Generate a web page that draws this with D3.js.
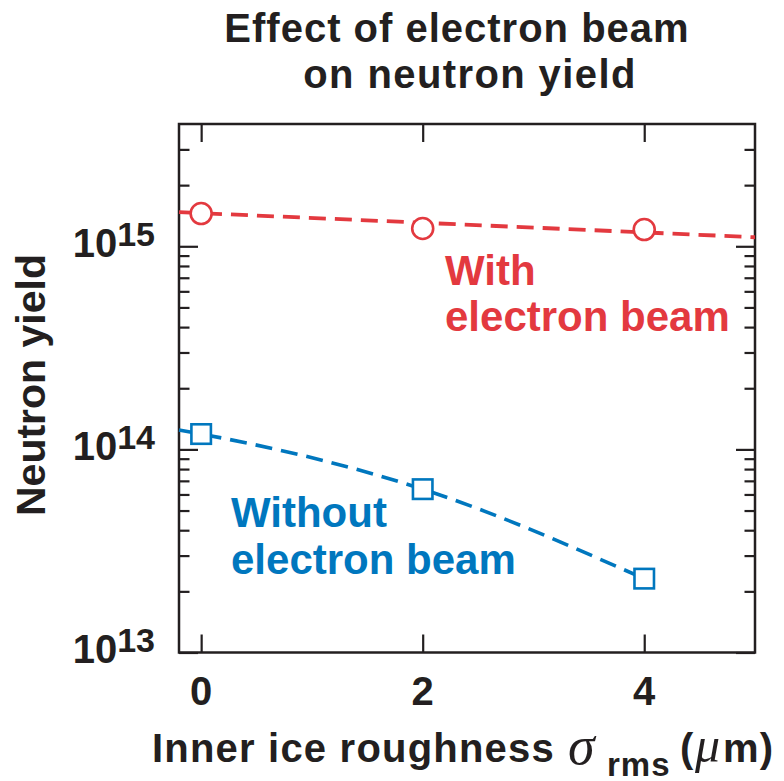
<!DOCTYPE html>
<html><head><meta charset="utf-8">
<script src="https://cdn.jsdelivr.net/npm/d3@7"></script>
<style>
body{margin:0;background:#fff}
text{font-family:"Liberation Sans",Arial,Helvetica,sans-serif;font-weight:bold}
</style>
</head><body>
<svg id="chart" width="784" height="781"></svg>
<script>
// ---- data ----
const roughness = [0, 2, 4];
const yieldWithBeam = [1.449e15, 1.223e15, 1.209e15];
const yieldWithoutBeam = [1.19e14, 6.37e13, 2.31e13];
const fitWithBeamX = [-0.2, 5];
const fitWithBeamY = [1.472e15, 1.108e15];
const fitWithoutBeamX = [-0.2, 0, 2, 4];
const fitWithoutBeamY = [1.245e14, 1.19e14, 6.37e13, 2.31e13];
const xTickValues = [0, 2, 4];
const xTickLabels = ["0", "2", "4"];
const yMajorValues = [1e13, 1e14, 1e15];
const yMajorExponents = ["13", "14", "15"];
const yMinorValues = [2e13,3e13,4e13,5e13,6e13,7e13,8e13,9e13,
                      2e14,3e14,4e14,5e14,6e14,7e14,8e14,9e14,
                      2e15,3e15];
const titleLines = ["Effect of electron beam", "on neutron yield"];

// ---- styles ----
const RED = "#e3393f", BLUE = "#0077be", INK = "#231f20";
const L = 179, R = 755, T = 124, B = 652.5;
const SERIF = "'Liberation Serif','Times New Roman',serif";

const svg = d3.select("#chart");
const x = d3.scaleLinear().domain([-0.2, 5]).range([L, R]);
const y = d3.scaleLog().domain([1e13, 4e15]).range([B, T]);

// title
svg.append("text").attr("x", 457).attr("y", 42).attr("text-anchor", "middle")
  .attr("font-size", 40).attr("letter-spacing", 1).attr("fill", INK).text(titleLines[0]);
svg.append("text").attr("x", 470).attr("y", 88).attr("text-anchor", "middle")
  .attr("font-size", 40).attr("letter-spacing", 1.4).attr("fill", INK).text(titleLines[1]);

// axes ticks (inward, on all four sides)
function styleAxis(g) {
  g.select(".domain").remove();
  g.selectAll(".tick line").attr("stroke", INK).attr("stroke-width", 2.2);
  g.selectAll(".tick text").remove();
}
svg.append("g").attr("transform", `translate(${L},0)`)
  .call(d3.axisLeft(y).tickValues(yMajorValues).tickSize(-19).tickFormat("")).call(styleAxis);
svg.append("g").attr("transform", `translate(${L},0)`)
  .call(d3.axisLeft(y).tickValues(yMinorValues).tickSize(-10.5).tickFormat("")).call(styleAxis);
svg.append("g").attr("transform", `translate(${R},0)`)
  .call(d3.axisRight(y).tickValues(yMajorValues).tickSize(-19).tickFormat("")).call(styleAxis);
svg.append("g").attr("transform", `translate(${R},0)`)
  .call(d3.axisRight(y).tickValues(yMinorValues).tickSize(-10.5).tickFormat("")).call(styleAxis);
svg.append("g").attr("transform", `translate(0,${B})`)
  .call(d3.axisBottom(x).tickValues(xTickValues).tickSize(-18).tickFormat("")).call(styleAxis);
svg.append("g").attr("transform", `translate(0,${T})`)
  .call(d3.axisTop(x).tickValues(xTickValues).tickSize(-18).tickFormat("")).call(styleAxis);

// frame
svg.append("rect").attr("x", L).attr("y", T).attr("width", R - L).attr("height", B - T)
  .attr("fill", "none").attr("stroke", INK).attr("stroke-width", 2.5);

// y tick labels 10^n
yMajorValues.forEach((v, i) => {
  const t = svg.append("text").attr("x", 155).attr("y", y(v) + 10.5)
    .attr("text-anchor", "end").attr("fill", INK).attr("font-size", 40);
  t.append("tspan").text("10");
  t.append("tspan").attr("dy", -11).attr("font-size", 34).text(yMajorExponents[i]);
});

// x tick labels
xTickValues.forEach((v, i) => {
  svg.append("text").attr("x", x(v)).attr("y", 705).attr("text-anchor", "middle")
    .attr("fill", INK).attr("font-size", 40).text(xTickLabels[i]);
});

// axis titles
svg.append("text").attr("transform", "translate(45,385) rotate(-90)")
  .attr("text-anchor", "middle").attr("fill", INK).attr("font-size", 41).text("Neutron yield");

const xl = svg.append("text").attr("fill", INK).attr("font-size", 40).attr("letter-spacing", 1.2);
xl.append("tspan").attr("x", 152).attr("y", 761.5).text("Inner ice roughness");
xl.append("tspan").attr("x", 568).attr("y", 764).attr("font-family", SERIF).attr("letter-spacing", 0)
  .attr("font-style", "italic").attr("font-weight", "normal").attr("font-size", 54).text("σ");
xl.append("tspan").attr("x", 607).attr("y", 775.5).attr("font-size", 33).attr("letter-spacing", 1).text("rms");
xl.append("tspan").attr("x", 680).attr("y", 761.5).attr("letter-spacing", 0).text("(");
xl.append("tspan").attr("x", 695).attr("y", 762).attr("font-family", SERIF).attr("letter-spacing", 0)
  .attr("font-style", "italic").attr("font-weight", "normal").attr("font-size", 50).text("μ");
xl.append("tspan").attr("x", 723).attr("y", 761.5).text("m)");

// fit lines
svg.append("path").datum(d3.zip(fitWithBeamX, fitWithBeamY))
  .attr("d", d3.line().x(d => x(d[0])).y(d => y(d[1])))
  .attr("fill", "none").attr("stroke", RED)
  .attr("stroke-width", 3.8).attr("stroke-dasharray", "17,9");
svg.append("path").datum(d3.zip(fitWithoutBeamX, fitWithoutBeamY))
  .attr("d", d3.line().x(d => x(d[0])).y(d => y(d[1])).curve(d3.curveMonotoneX))
  .attr("fill", "none").attr("stroke", BLUE)
  .attr("stroke-width", 3.6).attr("stroke-dasharray", "17,9");

// markers
svg.selectAll("circle.with").data(d3.zip(roughness, yieldWithBeam)).join("circle")
  .attr("class", "with")
  .attr("cx", d => x(d[0])).attr("cy", d => y(d[1])).attr("r", 10.5)
  .attr("fill", "#fff").attr("stroke", RED).attr("stroke-width", 2.6);
const S = 19.5;
svg.selectAll("rect.without").data(d3.zip(roughness, yieldWithoutBeam)).join("rect")
  .attr("class", "without")
  .attr("x", d => x(d[0]) - S / 2).attr("y", d => y(d[1]) - S / 2)
  .attr("width", S).attr("height", S)
  .attr("fill", "#fff").attr("stroke", BLUE).attr("stroke-width", 2.6);

// annotations
svg.append("text").attr("x", 445).attr("y", 285).attr("fill", RED).attr("font-size", 42).text("With");
svg.append("text").attr("x", 445).attr("y", 331).attr("fill", RED).attr("font-size", 42).text("electron beam");
svg.append("text").attr("x", 231).attr("y", 527).attr("fill", BLUE).attr("font-size", 42).text("Without");
svg.append("text").attr("x", 231).attr("y", 574).attr("fill", BLUE).attr("font-size", 42).text("electron beam");
</script>
</body></html>
